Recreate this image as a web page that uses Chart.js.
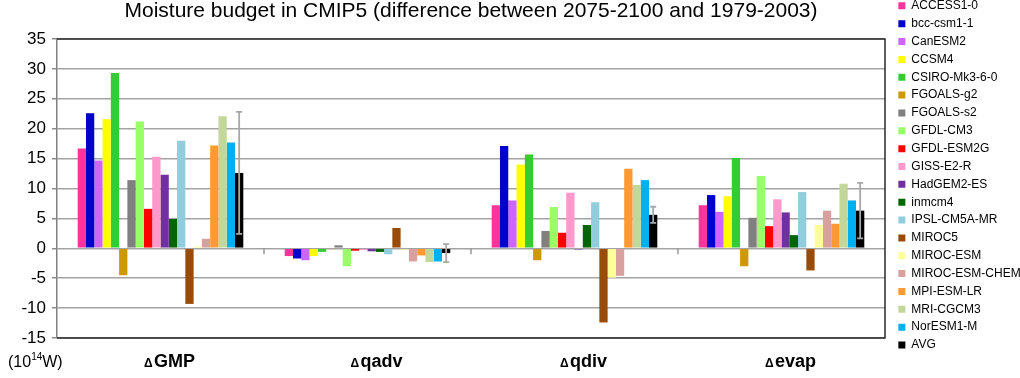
<!DOCTYPE html>
<html>
<head>
<meta charset="utf-8">
<script src="https://cdn.jsdelivr.net/npm/chart.js@4/dist/chart.umd.min.js"></script>
<style>
  html, body { margin: 0; padding: 0; background: #fff; }
  #wrap { width: 1020px; height: 378px; }
</style>
</head>
<body>
<div id="wrap"><canvas id="budget" width="1020" height="378"></canvas></div>
<script>
// Budget terms (x categories)
const categories = ['GMP', 'qadv', 'qdiv', 'evap'];

// Models, in legend order; the last entry is the multi-model mean
const models = ['ACCESS1-0', 'bcc-csm1-1', 'CanESM2', 'CCSM4', 'CSIRO-Mk3-6-0',
  'FGOALS-g2', 'FGOALS-s2', 'GFDL-CM3', 'GFDL-ESM2G', 'GISS-E2-R', 'HadGEM2-ES',
  'inmcm4', 'IPSL-CM5A-MR', 'MIROC5', 'MIROC-ESM', 'MIROC-ESM-CHEM', 'MPI-ESM-LR',
  'MRI-CGCM3', 'NorESM1-M', 'AVG'];

// Change per model (10^14 W), one array per budget term, same order as models
const gmp  = [16.7, 22.6, 14.7, 21.6, 29.3, -4.5, 11.4, 21.2, 6.6, 15.3, 12.3, 4.9, 18.0, -9.3, 0.3, 1.6, 17.2, 22.1, 17.7, 12.6];
const qadv = [-1.3, -1.7, -2.0, -1.3, -0.6, -0.1, 0.5, -3.0, -0.4, -0.3, -0.5, -0.6, -1.0, 3.4, -0.2, -2.2, -1.2, -2.3, -2.2, -0.8];
const qdiv = [7.2, 17.1, 8.0, 14.0, 15.7, -2.0, 2.9, 6.9, 2.6, 9.3, -0.2, 3.9, 7.7, -12.4, -4.9, -4.6, 13.3, 10.6, 11.4, 5.6];
const evap = [7.2, 8.9, 6.1, 8.7, 15.1, -3.0, 5.1, 12.1, 3.7, 8.2, 6.0, 2.2, 9.4, -3.7, 3.9, 6.3, 4.1, 10.8, 8.0, 6.3];

// Spread (+/-) drawn as whiskers on the AVG bars, one per budget term
const avgSpread = [10.2, 1.5, 1.35, 4.65];

// Value axis tick labels
const yTicks = [-15, -10, -5, 0, 5, 10, 15, 20, 25, 30, 35];

// Bar colours, same order as models
const palette = ['#FF3399', '#0000CC', '#CC66FF', '#FFFF00', '#33CC33',
  '#CC9900', '#808080', '#99FF66', '#FF0000', '#FF99CC', '#7030A0',
  '#006600', '#92CDDC', '#994C0A', '#FFFF99', '#D9A0A0', '#FF9933',
  '#C4D79B', '#00B0F0', '#000000'];

const FONT = '"Liberation Sans", Arial, Helvetica, sans-serif';
Chart.defaults.font.family = FONT;
Chart.defaults.color = '#000';

const seriesByTerm = [gmp, qadv, qdiv, evap];
const datasets = models.map((name, i) => ({
  label: name,
  data: seriesByTerm.map(arr => arr[i]),
  backgroundColor: palette[i],
  borderWidth: 0,
  categoryPercentage: 0.8,
  barPercentage: 1.0
}));

// Legend column: fixed width, nudged to sit tight against the top edge
const legendPlacement = {
  id: 'legendPlacement',
  beforeInit(chart) {
    const legend = chart.legend;
    const baseFit = legend.fit;
    legend.fit = function () {
      baseFit.call(this);
      this.width = 135;
    };
  },
  afterLayout(chart) {
    const legend = chart.legend;
    legend.left = chart.chartArea.right + 7.5;
    legend.right = legend.left + legend.width;
    legend.top = -6;
  }
};

// Plot frame and the short separators between term groups on the zero line
const plotFrame = {
  id: 'plotFrame',
  beforeDatasetsDraw(chart) {
    const { ctx, chartArea: a, scales: { x, y } } = chart;
    ctx.save();
    ctx.strokeStyle = '#2a2a2a';
    ctx.lineWidth = 1.5;
    ctx.beginPath();
    ctx.moveTo(a.left, a.top);
    ctx.lineTo(a.right, a.top);
    ctx.lineTo(a.right, a.bottom);
    ctx.lineTo(a.left, a.bottom);
    ctx.stroke();
    const y0 = y.getPixelForValue(0);
    ctx.strokeStyle = '#999';
    ctx.lineWidth = 1.5;
    for (let i = 1; i < categories.length; i++) {
      const xs = (x.getPixelForValue(i - 1) + x.getPixelForValue(i)) / 2;
      ctx.beginPath();
      ctx.moveTo(xs, y0);
      ctx.lineTo(xs, y0 + 6);
      ctx.stroke();
    }
    ctx.restore();
  }
};

// Whiskers on the AVG bars
const avgWhiskers = {
  id: 'avgWhiskers',
  afterDatasetsDraw(chart) {
    const { ctx, scales: { y } } = chart;
    const idx = models.length - 1;
    const meta = chart.getDatasetMeta(idx);
    const values = chart.data.datasets[idx].data;
    ctx.save();
    ctx.strokeStyle = '#a8a8a8';
    ctx.lineWidth = 1.8;
    meta.data.forEach((bar, i) => {
      const hi = y.getPixelForValue(values[i] + avgSpread[i]);
      const lo = y.getPixelForValue(values[i] - avgSpread[i]);
      ctx.beginPath();
      ctx.moveTo(bar.x, hi); ctx.lineTo(bar.x, lo);
      ctx.moveTo(bar.x - 3, hi); ctx.lineTo(bar.x + 3, hi);
      ctx.moveTo(bar.x - 3, lo); ctx.lineTo(bar.x + 3, lo);
      ctx.stroke();
    });
    ctx.restore();
  }
};

// Term labels under the groups (small delta + bold name) and the unit note
const termLabels = {
  id: 'termLabels',
  afterDraw(chart) {
    const { ctx, scales: { x } } = chart;
    const base = 367;
    ctx.save();
    ctx.fillStyle = '#000';
    ctx.textBaseline = 'alphabetic';
    ctx.textAlign = 'left';
    categories.forEach((name, i) => {
      const cx = x.getPixelForValue(i) + 9;
      ctx.font = 'bold 12px ' + FONT;
      const wd = ctx.measureText('\u0394').width;
      ctx.font = 'bold 18px ' + FONT;
      const wn = ctx.measureText(name).width;
      const gap = 1.5;
      let sx = cx - (wd + gap + wn) / 2;
      ctx.font = 'bold 12px ' + FONT;
      ctx.fillText('\u0394', sx, base - 0.5);
      ctx.font = 'bold 18px ' + FONT;
      ctx.fillText(name, sx + wd + gap, base);
    });
    // unit: (10^14 W)
    let ux = 8;
    ctx.font = '16px ' + FONT;
    ctx.fillText('(10', ux, 366.5);
    ux += ctx.measureText('(10').width;
    ctx.font = '10px ' + FONT;
    ctx.fillText('14', ux, 360);
    ux += ctx.measureText('14').width;
    ctx.font = '16px ' + FONT;
    ctx.fillText('W)', ux, 366.5);
    ctx.restore();
  }
};

new Chart(document.getElementById('budget'), {
  type: 'bar',
  data: { labels: categories, datasets },
  plugins: [legendPlacement, plotFrame, avgWhiskers, termLabels],
  options: {
    responsive: false,
    animation: false,
    devicePixelRatio: 1,
    layout: { padding: 0 },
    plugins: {
      title: {
        display: true,
        fullSize: false,
        text: 'Moisture budget in CMIP5 (difference between 2075-2100 and 1979-2003)',
        font: { size: 21, weight: 'normal', lineHeight: 1 },
        color: '#000',
        padding: { top: 1.2, bottom: 16.8 }
      },
      legend: {
        position: 'right',
        align: 'start',
        labels: {
          boxWidth: 7,
          boxHeight: 7,
          padding: 5.85,
          color: '#000',
          font: { size: 12 },
          generateLabels(chart) {
            return Chart.defaults.plugins.legend.labels.generateLabels(chart)
              .map(item => Object.assign(item, { lineWidth: 0 }));
          }
        }
      },
      tooltip: { enabled: false }
    },
    scales: {
      x: {
        type: 'category',
        offset: true,
        grid: { display: false },
        border: { display: false },
        ticks: { display: false },
        afterFit(scale) { scale.height = 40; }
      },
      y: {
        min: yTicks[0],
        max: yTicks[yTicks.length - 1],
        afterBuildTicks(scale) { scale.ticks = yTicks.map(v => ({ value: v })); },
        ticks: {
          font: { size: 17 },
          color: '#000',
          padding: 6
        },
        grid: {
          color: '#a3a3a3',
          lineWidth: 1.5,
          tickLength: 5,
          tickColor: '#8c8c8c'
        },
        border: { color: '#808080', width: 1.5 },
        afterFit(scale) { scale.width = 57; }
      }
    }
  }
});
</script>
</body>
</html>
